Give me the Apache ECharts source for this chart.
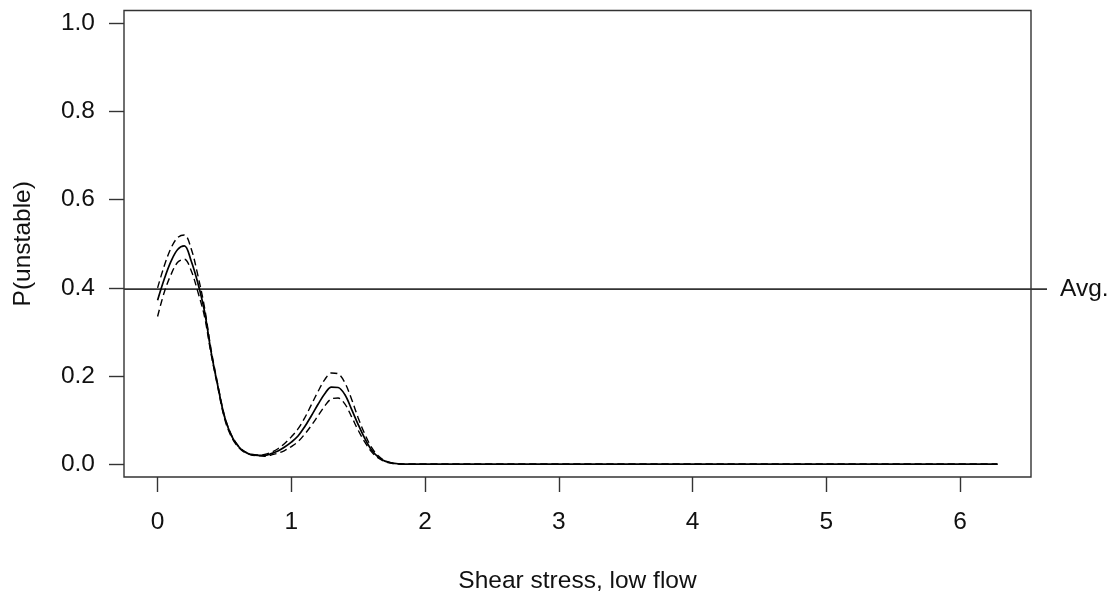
<!DOCTYPE html>
<html>
<head>
<meta charset="utf-8">
<title>P(unstable) vs shear stress, low flow</title>
<script src="https://cdn.jsdelivr.net/npm/echarts@6/dist/echarts.min.js"></script>
<style>
  html, body { margin: 0; padding: 0; background: #fff; }
  #chart { width: 1113px; height: 594px; }
</style>
</head>
<body>
<div id="chart"></div>
<script>
// Shear stress (x) sample positions
const shear = [
  0.00, 0.05, 0.10, 0.15, 0.20, 0.25, 0.30, 0.35, 0.40, 0.45,
  0.50, 0.55, 0.60, 0.65, 0.70, 0.75, 0.80, 0.85, 0.90, 0.95,
  1.00, 1.05, 1.10, 1.15, 1.20, 1.25, 1.30, 1.35, 1.40, 1.45,
  1.50, 1.55, 1.60, 1.65, 1.70, 1.75, 1.80, 1.85, 1.90, 2.00, 6.28
];
// Estimated probability of instability
const pMean = [
  0.372, 0.420, 0.460, 0.487, 0.495, 0.462, 0.412, 0.348, 0.255, 0.178,
  0.108, 0.066, 0.042, 0.028, 0.022, 0.020, 0.020, 0.024, 0.030, 0.039,
  0.050, 0.064, 0.085, 0.110, 0.136, 0.160, 0.175, 0.174, 0.158, 0.125,
  0.090, 0.058, 0.032, 0.016, 0.007, 0.003, 0.001, 0.000, 0.000, 0.000, 0.000
];
// Upper confidence bound
const pUpper = [
  0.400, 0.450, 0.490, 0.514, 0.520, 0.490, 0.430, 0.357, 0.260, 0.181,
  0.110, 0.068, 0.043, 0.029, 0.023, 0.021, 0.022, 0.027, 0.035, 0.047,
  0.062, 0.080, 0.105, 0.135, 0.165, 0.192, 0.207, 0.205, 0.185, 0.148,
  0.105, 0.068, 0.038, 0.019, 0.008, 0.003, 0.001, 0.000, 0.000, 0.000, 0.000
];
// Lower confidence bound
const pLower = [
  0.335, 0.390, 0.430, 0.458, 0.465, 0.440, 0.392, 0.336, 0.250, 0.175,
  0.104, 0.063, 0.040, 0.027, 0.021, 0.019, 0.018, 0.021, 0.025, 0.031,
  0.040, 0.051, 0.068, 0.088, 0.110, 0.132, 0.148, 0.150, 0.137, 0.108,
  0.077, 0.050, 0.028, 0.014, 0.006, 0.002, 0.001, 0.000, 0.000, 0.000, 0.000
];
// Overall average probability
const avgLevel = 0.397;
const avgLabel = 'Avg.';

const xTicks = [0, 1, 2, 3, 4, 5, 6];
const yTicks = [0, 0.2, 0.4, 0.6, 0.8, 1.0];

const xName = 'Shear stress, low flow';
const yName = 'P(unstable)';

// Axis extents padded 4% beyond the data range
const xMin = -0.2512, xMax = 6.5312;
const yMin = -0.029, yMax = 1.029;

const FONT = '"Liberation Sans", Arial, sans-serif';
const FS = 24.5;
const INK = '#111';
const FRAME = '#333';

const pairs = arr => shear.map((x, i) => [x, arr[i]]);

const chart = echarts.init(document.getElementById('chart'), null, { renderer: 'canvas' });

const lineBase = {
  type: 'line',
  showSymbol: false,
  symbol: 'none',
  smooth: 0.35,
  animation: false,
  silent: true
};

const hiddenAxis = {
  show: false,
  splitLine: { show: false },
  axisLine: { show: false, onZero: false },
  axisTick: { show: false },
  axisLabel: { show: false }
};

chart.setOption({
  backgroundColor: '#fff',
  animation: false,
  grid: [
    {
      left: 124, right: 82, top: 10.5, bottom: 117,
      outerBoundsMode: 'none',
      containLabel: false,
      show: true,
      borderColor: FRAME,
      borderWidth: 1.4,
      backgroundColor: 'transparent'
    },
    // The average reference line runs past the frame into the right margin
    {
      left: 124, right: 66, top: 10.5, bottom: 117,
      outerBoundsMode: 'none',
      containLabel: false,
      show: false
    }
  ],
  xAxis: [
    {
      type: 'value',
      gridIndex: 0,
      min: xMin,
      max: xMax,
      name: xName,
      nameLocation: 'middle',
      nameGap: 92,
      nameTextStyle: { fontFamily: FONT, fontSize: FS, color: INK },
      splitLine: { show: false },
      axisLine: { show: false, onZero: false },
      axisTick: {
        show: true, inside: false, length: 15,
        customValues: xTicks,
        lineStyle: { color: FRAME, width: 1.4 }
      },
      axisLabel: {
        show: true, margin: 33,
        customValues: xTicks,
        formatter: v => String(Math.round(v)),
        fontFamily: FONT, fontSize: FS, color: INK
      }
    },
    { type: 'value', gridIndex: 1, min: 0, max: 1, ...hiddenAxis }
  ],
  yAxis: [
    {
      type: 'value',
      gridIndex: 0,
      min: yMin,
      max: yMax,
      name: yName,
      nameLocation: 'middle',
      nameGap: 88,
      nameTextStyle: { fontFamily: FONT, fontSize: FS, color: INK },
      splitLine: { show: false },
      axisLine: { show: false, onZero: false },
      axisTick: {
        show: true, inside: false, length: 15,
        customValues: yTicks,
        lineStyle: { color: FRAME, width: 1.4 }
      },
      axisLabel: {
        show: true, margin: 29,
        customValues: yTicks,
        formatter: v => v.toFixed(1),
        fontFamily: FONT, fontSize: FS, color: INK
      }
    },
    { type: 'value', gridIndex: 1, min: yMin, max: yMax, ...hiddenAxis }
  ],
  series: [
    {
      ...lineBase,
      name: 'Average',
      xAxisIndex: 1,
      yAxisIndex: 1,
      smooth: false,
      clip: false,
      data: [[0, avgLevel], [1, avgLevel]],
      lineStyle: { color: '#333', width: 1.6 },
      endLabel: {
        show: true,
        formatter: avgLabel,
        distance: 13,
        fontFamily: FONT, fontSize: FS, color: INK
      }
    },
    {
      ...lineBase,
      name: 'Upper',
      data: pairs(pUpper),
      lineStyle: { color: '#000', width: 1.4, type: [7, 4] }
    },
    {
      ...lineBase,
      name: 'Lower',
      data: pairs(pLower),
      lineStyle: { color: '#000', width: 1.4, type: [7, 4] }
    },
    {
      ...lineBase,
      name: 'Mean',
      data: pairs(pMean),
      lineStyle: { color: '#000', width: 1.7 }
    }
  ]
});
</script>
</body>
</html>
